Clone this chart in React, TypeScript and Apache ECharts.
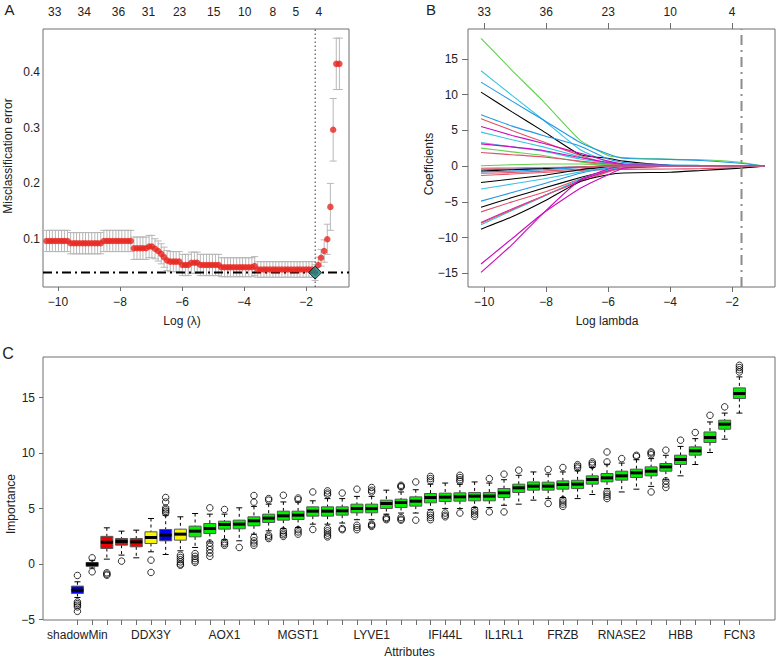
import React, { useEffect, useRef } from "react";
import * as echarts from "echarts";

const FONT = '"Liberation Sans", Arial, Helvetica, sans-serif';
const TEXT = "#222222";
const FRAME = "#6e6e6e";

// ---------------- Panel A: cross-validation misclassification error ----------------
const A_LOG_LAMBDA = [
  -10.37, -10.27, -10.18, -10.08, -9.98, -9.88, -9.79, -9.69, -9.59, -9.49,
  -9.40, -9.30, -9.20, -9.11, -9.01, -8.91, -8.81, -8.72, -8.62, -8.52,
  -8.42, -8.33, -8.23, -8.13, -8.04, -7.94, -7.84, -7.74, -7.65, -7.55,
  -7.45, -7.35, -7.26, -7.16, -7.06, -6.97, -6.87, -6.77, -6.67, -6.58,
  -6.48, -6.38, -6.28, -6.19, -6.09, -5.99, -5.89, -5.80, -5.70, -5.60,
  -5.51, -5.41, -5.31, -5.21, -5.12, -5.02, -4.92, -4.82, -4.73, -4.63,
  -4.53, -4.44, -4.34, -4.24, -4.14, -4.05, -3.95, -3.85, -3.75, -3.66,
  -3.56, -3.46, -3.36, -3.27, -3.17, -3.07, -2.98, -2.88, -2.78, -2.68,
  -2.59, -2.49, -2.39, -2.29, -2.20, -2.10, -2.00, -1.91, -1.81, -1.71,
  -1.61, -1.52, -1.42, -1.32, -1.22, -1.13, -1.03, -0.93,
];
const A_CV_ERROR = [
  0.097, 0.097, 0.097, 0.097, 0.097, 0.097, 0.097, 0.097, 0.093, 0.093,
  0.093, 0.093, 0.093, 0.093, 0.093, 0.093, 0.093, 0.093, 0.093, 0.097,
  0.097, 0.097, 0.097, 0.097, 0.097, 0.097, 0.097, 0.097, 0.097, 0.084,
  0.084, 0.084, 0.084, 0.084, 0.087, 0.087, 0.083, 0.079, 0.074, 0.068,
  0.062, 0.060, 0.060, 0.060, 0.060, 0.054, 0.054, 0.054, 0.058, 0.058,
  0.058, 0.054, 0.054, 0.054, 0.054, 0.054, 0.054, 0.054, 0.050, 0.050,
  0.050, 0.050, 0.050, 0.050, 0.050, 0.050, 0.050, 0.050, 0.050, 0.052,
  0.046, 0.046, 0.046, 0.046, 0.046, 0.046, 0.046, 0.046, 0.046, 0.046,
  0.046, 0.046, 0.046, 0.046, 0.046, 0.046, 0.046, 0.046, 0.046, 0.0404,
  0.054, 0.067, 0.079, 0.100, 0.158, 0.296, 0.414, 0.414,
];
const A_CV_SD = [
  0.019, 0.019, 0.019, 0.019, 0.019, 0.019, 0.019, 0.019, 0.019, 0.019,
  0.019, 0.019, 0.019, 0.019, 0.019, 0.019, 0.019, 0.019, 0.019, 0.019,
  0.019, 0.019, 0.019, 0.019, 0.019, 0.019, 0.019, 0.019, 0.019, 0.020,
  0.020, 0.020, 0.020, 0.020, 0.020, 0.020, 0.018, 0.018, 0.018, 0.018,
  0.018, 0.018, 0.018, 0.018, 0.018, 0.019, 0.019, 0.019, 0.019, 0.019,
  0.019, 0.019, 0.019, 0.019, 0.019, 0.019, 0.019, 0.019, 0.017, 0.017,
  0.017, 0.017, 0.017, 0.017, 0.017, 0.017, 0.017, 0.017, 0.017, 0.017,
  0.014, 0.014, 0.014, 0.014, 0.014, 0.014, 0.014, 0.014, 0.014, 0.014,
  0.014, 0.014, 0.014, 0.014, 0.014, 0.014, 0.014, 0.014, 0.014, 0.014,
  0.014, 0.015, 0.020, 0.027, 0.042, 0.056, 0.046, 0.046,
];
const A_MIN_LOG_LAMBDA = -1.71;
const A_MIN_ERROR = 0.0404;
const A_X_TICKS = [-10, -8, -6, -4, -2];
const A_Y_TICKS = [0.1, 0.2, 0.3, 0.4];
const A_TOP_POS = [-10.1, -9.15, -8.05, -7.08, -6.08, -4.98, -3.98, -3.07, -2.33, -1.59];
const A_TOP_LABELS = ["33", "34", "36", "31", "23", "15", "10", "8", "5", "4"];

// ---------------- Panel B: coefficient paths ----------------
const B_LOG_LAMBDA = [-10.1, -9.1, -8.1, -6.9, -6.0, -5.5, -4.0, -3.0, -1.75, -0.95];
const B_COLOR_KEYS = [
  "green", "cyan", "blue", "black", "blue", "red", "purple", "cyan", "cyan", "purple",
  "green", "red", "green", "blue", "black", "red", "red", "black", "cyan", "blue",
  "black", "red", "purple", "cyan", "red", "black", "purple", "purple", "blue", "red",
];
const B_PATHS = [
  [17.9, 13.4, 9.1, 3.6, 1.5, 1.2, 0.95, 0.9, 0.55, 0],
  [13.35, 9.9, 6.5, 2.3, 0.6, 0.3, 0.15, 0.1, 0.05, 0],
  [11.76, 9.1, 6.5, 3.3, 1.7, 1.1, 0.95, 0.8, 0.4, 0],
  [10.36, 7.6, 4.9, 1.6, 1.1, 0.7, 0.1, 0.05, 0, 0],
  [7.18, 5.6, 4.3, 2.8, 1.0, 0.5, 0.15, 0.1, 0.05, 0],
  [6.62, 5.0, 3.4, 1.5, 0.4, 0.2, 0.05, 0, 0, 0],
  [5.55, 4.3, 3.2, 1.8, 0.7, 0.3, 0.1, 0, 0, 0],
  [4.76, 3.7, 2.7, 1.3, 0.3, 0.1, 0, 0, 0, 0],
  [3.3, 2.7, 2.1, 1.0, 0.4, 0.2, 0.05, 0, 0, 0],
  [3.12, 2.7, 2.2, 1.2, 0.5, 0.2, 0.05, 0, 0, 0],
  [2.52, 2.0, 1.5, 0.6, 0.2, 0.1, 0, 0, 0, 0],
  [1.9, 1.6, 1.3, 0.7, 0.3, 0.1, 0, 0, 0, 0],
  [0.05, 0.2, 0.3, 0.3, 0.15, 0.05, 0, 0, 0, 0],
  [-0.5, -0.4, -0.3, -0.1, 0, 0, 0, 0, 0, 0],
  [-0.7, -0.5, -0.35, -0.15, 0, 0, 0, 0, 0, 0],
  [-1.0, -0.9, -0.7, -0.4, -0.15, 0, 0, 0, 0, 0],
  [-1.3, -1.1, -0.9, -0.6, -0.5, -0.45, -0.4, -0.35, -0.2, 0],
  [-2.3, -1.8, -1.3, -0.5, -0.1, 0, 0, 0, 0, 0],
  [-3.2, -2.5, -1.8, -0.8, -0.2, 0, 0, 0, 0, 0],
  [-4.9, -3.7, -2.5, -1.0, -0.3, -0.1, 0, 0, 0, 0],
  [-5.75, -4.4, -3.1, -1.6, -0.6, -0.2, 0, 0, 0, 0],
  [-6.4, -5.0, -3.7, -1.8, -0.6, -0.2, 0, 0, 0, 0],
  [-7.9, -6.0, -4.2, -2.0, -0.7, -0.2, 0, 0, 0, 0],
  [-8.2, -6.2, -4.3, -1.8, -0.5, -0.1, 0, 0, 0, 0],
  [-8.0, -6.1, -4.2, -2.2, -0.8, -0.3, 0, 0, 0, 0],
  [-8.83, -7.1, -5.0, -2.15, -1.2, -0.95, -0.85, -0.6, -0.3, 0],
  [-13.7, -10.15, -6.6, -3.1, -1.2, -0.3, 0, 0, 0, 0],
  [-14.87, -11.0, -6.6, -1.9, -0.4, 0, 0, 0, 0, 0],
  [-0.8, -0.7, -0.5, -0.2, 0, 0, 0, 0, 0, 0],
  [-0.3, -0.25, -0.2, -0.1, 0, 0, 0, 0, 0, 0],
];
const B_LAMBDA_LINE = -1.7;
const B_X_TICKS = [-10, -8, -6, -4, -2];
const B_Y_TICKS = [-15, -10, -5, 0, 5, 10, 15];
const B_TOP_LABELS = ["33", "36", "23", "10", "4"];

// ---------------- Panel C: Boruta importance ----------------
const C_NAMES = [
  "shadowMin", "", "", "", "", "DDX3Y", "", "", "", "",
  "AOX1", "", "", "", "", "MGST1", "", "", "", "",
  "LYVE1", "", "", "", "", "IFI44L", "", "", "", "IL1RL1",
  "", "", "", "FRZB", "", "", "", "RNASE2", "", "",
  "", "HBB", "", "", "", "FCN3",
];
const C_COLOR_KEYS = [
  "blue", "black", "red", "red", "red", "yellow", "blue", "yellow", "green", "green",
  "green", "green", "green", "green", "green", "green", "green", "green", "green", "green",
  "green", "green", "green", "green", "green", "green", "green", "green", "green", "green",
  "green", "green", "green", "green", "green", "green", "green", "green", "green", "green",
  "green", "green", "green", "green", "green", "green",
];
const C_LOW = [
  -3.0, -0.35, 0.45, 0.81, 0.57, 1.11, 0.87, 1.2, 1.5, 2.0,
  2.2, 2.1, 2.7, 3.0, 3.2, 3.3, 3.6, 3.6, 3.7, 4.0,
  4.0, 4.5, 4.6, 4.6, 4.9, 5.0, 5.0, 5.1, 5.1, 5.3,
  5.4, 5.76, 5.9, 6.0, 5.9, 6.27, 6.8, 6.5, 6.75, 7.0,
  7.6, 7.95, 8.97, 10.05, 11.25, 13.6,
];
const C_Q1 = [
  -2.64, -0.2, 1.41, 1.71, 1.56, 1.86, 2.1, 2.16, 2.46, 2.76,
  3.15, 3.18, 3.45, 3.75, 3.96, 4.02, 4.32, 4.32, 4.41, 4.62,
  4.62, 5.01, 5.1, 5.22, 5.52, 5.64, 5.67, 5.7, 5.7, 6.0,
  6.45, 6.66, 6.66, 6.75, 6.8, 7.2, 7.41, 7.56, 7.8, 7.95,
  8.37, 8.97, 9.81, 10.95, 12.15, 14.91,
];
const C_MEDIAN = [
  -2.34, 0, 1.97, 2.04, 2.0, 2.4, 2.61, 2.7, 2.97, 3.21,
  3.57, 3.6, 3.9, 4.14, 4.35, 4.41, 4.77, 4.77, 4.8, 5.01,
  5.0, 5.46, 5.55, 5.67, 6.0, 6.03, 6.06, 6.12, 6.12, 6.42,
  6.87, 7.02, 7.02, 7.17, 7.2, 7.62, 7.77, 7.95, 8.22, 8.37,
  8.76, 9.42, 10.2, 11.4, 12.6, 15.36,
];
const C_Q3 = [
  -1.98, 0.15, 2.5, 2.31, 2.31, 2.91, 3.12, 3.15, 3.42, 3.66,
  3.87, 3.96, 4.26, 4.5, 4.77, 4.77, 5.16, 5.16, 5.16, 5.4,
  5.4, 5.76, 5.85, 6.06, 6.36, 6.39, 6.42, 6.45, 6.45, 6.81,
  7.2, 7.4, 7.38, 7.5, 7.55, 7.95, 8.16, 8.37, 8.55, 8.76,
  9.06, 9.81, 10.56, 11.9, 12.96, 15.87,
];
const C_HIGH = [
  -1.59, 0.35, 3.27, 2.97, 3.06, 4.11, 4.4, 4.26, 4.56, 4.5,
  4.5, 5.07, 5.2, 5.4, 5.6, 5.6, 5.7, 5.9, 5.9, 6.1,
  6.1, 6.66, 6.5, 6.7, 7.2, 7.3, 7.2, 7.4, 7.3, 7.6,
  8.0, 8.3, 8.1, 8.3, 8.4, 8.7, 9.0, 9.1, 9.4, 9.5,
  9.8, 10.6, 11.3, 12.8, 13.6, 16.86,
];
const C_OUTLIERS = [
  [-1.02, -3.4, -3.55, -3.7, -3.85, -4.25],
  [0.57, -0.69],
  [-0.78, -0.9, -1.0],
  [0.27],
  [],
  [0.36, -0.75],
  [4.6, 4.75, 4.9, 5.05, 5.6, 6.0],
  [0.8, 0.6, 0.4, 0.2, 0.0, -0.1],
  [0.95, 0.7, 0.5, 0.3, 0.15],
  [5.07, 1.9, 1.6, 1.3, 1.0, 0.7],
  [4.92, 2.0, 1.85, 1.7],
  [1.5],
  [6.18, 5.58, 2.4, 2.1, 1.9, 1.7],
  [5.9, 5.76, 2.6, 2.45, 2.3],
  [6.2, 3.0, 2.8, 2.65, 2.5],
  [5.95, 5.8, 3.1, 2.9, 2.7],
  [6.5, 3.12],
  [6.6, 6.4, 6.25, 3.2, 3.0, 2.8, 2.6, 2.45],
  [6.4, 3.2, 3.1],
  [6.75, 3.5, 3.3, 3.1],
  [6.9, 6.65, 6.5, 3.6, 3.5, 3.4],
  [4.2, 4.1, 4.0],
  [7.1, 7.0, 6.95, 4.2, 4.05, 3.96],
  [7.4, 3.96],
  [7.9, 7.7, 7.5, 4.6, 4.4, 4.2, 4.0],
  [4.6, 4.4, 4.26],
  [8.0, 7.8, 7.6, 7.45, 4.6],
  [4.9, 4.7, 4.5, 4.3],
  [7.7, 4.7],
  [8.1, 4.7],
  [8.46],
  [],
  [8.52, 5.46],
  [8.7, 5.8, 5.6, 5.4, 5.2],
  [8.95, 8.8, 8.65],
  [9.2, 9.05, 8.9],
  [10.1, 9.2, 6.5, 6.3, 6.1, 5.9],
  [9.5],
  [9.8, 9.7],
  [10.1, 10.0, 9.85, 6.5],
  [10.26, 7.5, 7.2, 6.9],
  [11.16],
  [11.85],
  [13.4],
  [14.16],
  [17.9, 17.7, 17.5, 17.3],
];
const C_Y_TICKS = [-5, 0, 5, 10, 15];

// ---------------- styling ----------------
const LINE_COLORS: Record<string, string> = {
  green: "#61D04F",
  cyan: "#33C6DE",
  blue: "#2297E6",
  black: "#000000",
  red: "#DF536B",
  purple: "#CD0BBC",
};
const BOX_COLORS: Record<string, string> = {
  blue: "#0000EE",
  black: "#000000",
  red: "#F00000",
  yellow: "#F7F700",
  green: "#00F000",
};

const minusFmt = (v: number) => (v < 0 ? "\u2212" + Math.abs(v) : String(v));
const labelStyle = { fontSize: 12, color: TEXT, fontFamily: FONT };

function buildOption() {
  const A_X_MIN = -10.48, A_X_MAX = -0.62, A_Y_MIN = 0.0146, A_Y_MAX = 0.4764;
  const B_X_MIN = -10.52, B_X_MAX = -0.62, B_Y_MIN = -16.92, B_Y_MAX = 19.2;
  const C_X_MIN = -2.34, C_X_MAX = 47.42, C_Y_MIN = -5.03, C_Y_MAX = 18.65;

  const gridBase = { show: true, borderColor: FRAME, borderWidth: 1, backgroundColor: "#ffffff" };

  const cIdx = C_NAMES.map((_, i) => i);
  const cLabelIdx = C_NAMES.map((n, i) => (n ? i : -1)).filter((i) => i >= 0);

  const series: any[] = [];

  // A: error bars
  series.push({
    type: "custom",
    xAxisIndex: 0,
    yAxisIndex: 0,
    z: 1,
    clip: false,
    encode: { x: 0, y: [1, 2] },
    data: A_LOG_LAMBDA.map((x, i) => [x, A_CV_ERROR[i] - A_CV_SD[i], A_CV_ERROR[i] + A_CV_SD[i]]),
    renderItem: (params: any, api: any) => {
      const x = api.value(0);
      const lo = api.coord([x, api.value(1)]);
      const hi = api.coord([x, api.value(2)]);
      const c = 3.5;
      const st = { stroke: "#b8b8b8", lineWidth: 1 };
      return {
        type: "group",
        children: [
          { type: "line", shape: { x1: lo[0], y1: lo[1], x2: hi[0], y2: hi[1] }, style: st },
          { type: "line", shape: { x1: lo[0] - c, y1: lo[1], x2: lo[0] + c, y2: lo[1] }, style: st },
          { type: "line", shape: { x1: hi[0] - c, y1: hi[1], x2: hi[0] + c, y2: hi[1] }, style: st },
        ],
      };
    },
  });
  // A: horizontal dash-dot line at minimum error
  series.push({
    type: "line",
    xAxisIndex: 0,
    yAxisIndex: 0,
    z: 2,
    symbol: "none",
    data: [[A_X_MIN, A_MIN_ERROR], [A_X_MAX, A_MIN_ERROR]],
    lineStyle: { color: "#000", width: 2, type: [9, 4, 2, 4] },
  });
  // A: vertical dotted line at lambda.min
  series.push({
    type: "line",
    xAxisIndex: 0,
    yAxisIndex: 0,
    z: 2,
    symbol: "none",
    data: [[A_MIN_LOG_LAMBDA, A_Y_MIN], [A_MIN_LOG_LAMBDA, A_Y_MAX]],
    lineStyle: { color: "#333", width: 1, type: [1.5, 2.5] },
  });
  // A: red points
  series.push({
    type: "scatter",
    xAxisIndex: 0,
    yAxisIndex: 0,
    z: 3,
    symbol: "circle",
    symbolSize: 6.5,
    itemStyle: { color: "#E8261E" },
    data: A_LOG_LAMBDA.map((x, i) => [x, A_CV_ERROR[i]]),
  });
  // A: diamond
  series.push({
    type: "scatter",
    xAxisIndex: 0,
    yAxisIndex: 0,
    z: 4,
    symbol: "diamond",
    symbolSize: [13, 13],
    itemStyle: { color: "#16898A", borderColor: "#000", borderWidth: 1 },
    data: [[A_MIN_LOG_LAMBDA, A_MIN_ERROR]],
  });

  // B: coefficient paths
  B_PATHS.forEach((vals, k) => {
    series.push({
      type: "line",
      xAxisIndex: 2,
      yAxisIndex: 1,
      symbol: "none",
      smooth: 0.15,
      z: 2,
      lineStyle: { color: LINE_COLORS[B_COLOR_KEYS[k]], width: 1.1 },
      data: B_LOG_LAMBDA.map((x, i) => [x, vals[i]]),
    });
  });
  series.push({
    type: "line",
    xAxisIndex: 2,
    yAxisIndex: 1,
    symbol: "none",
    z: 3,
    data: [[B_LAMBDA_LINE, B_Y_MIN], [B_LAMBDA_LINE, B_Y_MAX]],
    lineStyle: { color: "#8c8c8c", width: 2, type: [10, 5, 2, 5] },
  });

  // C: boxes
  series.push({
    type: "custom",
    xAxisIndex: 4,
    yAxisIndex: 2,
    z: 2,
    clip: false,
    encode: { x: 0, y: [1, 2, 3, 4, 5] },
    data: cIdx.map((i) => [i, C_LOW[i], C_Q1[i], C_MEDIAN[i], C_Q3[i], C_HIGH[i]]),
    renderItem: (params: any, api: any) => {
      const x = api.value(0);
      const lo = api.coord([x, api.value(1)]);
      const q1 = api.coord([x, api.value(2)]);
      const md = api.coord([x, api.value(3)]);
      const q3 = api.coord([x, api.value(4)]);
      const hi = api.coord([x, api.value(5)]);
      const cx = lo[0];
      const half = 6;
      const cap = 3;
      const fill = BOX_COLORS[C_COLOR_KEYS[params.dataIndex]];
      const dash = { stroke: "#000", lineWidth: 1, lineDash: [3, 3] };
      const solid = { stroke: "#000", lineWidth: 1 };
      return {
        type: "group",
        children: [
          { type: "line", shape: { x1: cx, y1: hi[1], x2: cx, y2: q3[1] }, style: dash },
          { type: "line", shape: { x1: cx, y1: q1[1], x2: cx, y2: lo[1] }, style: dash },
          { type: "line", shape: { x1: cx - cap, y1: hi[1], x2: cx + cap, y2: hi[1] }, style: solid },
          { type: "line", shape: { x1: cx - cap, y1: lo[1], x2: cx + cap, y2: lo[1] }, style: solid },
          {
            type: "rect",
            shape: { x: cx - half, y: q3[1], width: half * 2, height: Math.max(q1[1] - q3[1], 1) },
            style: { fill, stroke: "#555", lineWidth: 1 },
          },
          { type: "line", shape: { x1: cx - half, y1: md[1], x2: cx + half, y2: md[1] }, style: { stroke: "#000", lineWidth: 3 } },
        ],
      };
    },
  });
  // C: outliers
  series.push({
    type: "scatter",
    xAxisIndex: 4,
    yAxisIndex: 2,
    z: 3,
    symbol: "circle",
    symbolSize: 6.5,
    itemStyle: { color: "rgba(255,255,255,0)", borderColor: "#000", borderWidth: 1 },
    data: C_OUTLIERS.flatMap((arr, i) => arr.map((v) => [i, v])),
  });

  const noLine = { show: false, onZero: false };
  const hidden = { show: false };

  return {
    animation: false,
    backgroundColor: "#ffffff",
    textStyle: { fontFamily: FONT },
    grid: [
      { ...gridBase, left: 43, top: 29, width: 306, height: 258 },
      { ...gridBase, left: 468, top: 29, width: 307, height: 258 },
      { ...gridBase, left: 43, top: 357, width: 732, height: 263 },
    ],
    xAxis: [
      {
        type: "value", gridIndex: 0, position: "bottom", min: A_X_MIN, max: A_X_MAX,
        axisLine: noLine, splitLine: hidden,
        axisTick: { show: true, length: 4, lineStyle: { color: FRAME }, customValues: A_X_TICKS },
        axisLabel: { ...labelStyle, margin: 9, customValues: A_X_TICKS, formatter: minusFmt },
      },
      {
        type: "value", gridIndex: 0, position: "top", min: A_X_MIN, max: A_X_MAX,
        axisLine: noLine, splitLine: hidden, axisTick: hidden,
        axisLabel: {
          ...labelStyle, margin: 11, customValues: A_TOP_POS,
          formatter: (v: number) => {
            const i = A_TOP_POS.findIndex((p) => Math.abs(p - v) < 1e-6);
            return i >= 0 ? A_TOP_LABELS[i] : "";
          },
        },
      },
      {
        type: "value", gridIndex: 1, position: "bottom", min: B_X_MIN, max: B_X_MAX,
        axisLine: noLine, splitLine: hidden,
        axisTick: { show: true, length: 5, lineStyle: { color: FRAME }, customValues: B_X_TICKS },
        axisLabel: { ...labelStyle, margin: 9, customValues: B_X_TICKS, formatter: minusFmt },
      },
      {
        type: "value", gridIndex: 1, position: "top", min: B_X_MIN, max: B_X_MAX,
        axisLine: noLine, splitLine: hidden,
        axisTick: { show: true, length: 6, lineStyle: { color: FRAME }, customValues: B_X_TICKS },
        axisLabel: {
          ...labelStyle, margin: 11, customValues: B_X_TICKS,
          formatter: (v: number) => {
            const i = B_X_TICKS.findIndex((p) => Math.abs(p - v) < 1e-6);
            return i >= 0 ? B_TOP_LABELS[i] : "";
          },
        },
      },
      {
        type: "value", gridIndex: 2, position: "bottom", min: C_X_MIN, max: C_X_MAX,
        axisLine: noLine, splitLine: hidden,
        axisTick: { show: true, length: 5, lineStyle: { color: FRAME }, customValues: cIdx },
        axisLabel: {
          ...labelStyle, margin: 9, customValues: cLabelIdx,
          formatter: (v: number) => C_NAMES[Math.round(v)] || "",
        },
      },
    ],
    yAxis: [
      {
        type: "value", gridIndex: 0, position: "left", min: A_Y_MIN, max: A_Y_MAX,
        axisLine: noLine, splitLine: hidden, axisTick: hidden,
        axisLabel: { ...labelStyle, margin: 3, customValues: A_Y_TICKS, formatter: (v: number) => v.toFixed(1) },
      },
      {
        type: "value", gridIndex: 1, position: "left", min: B_Y_MIN, max: B_Y_MAX,
        axisLine: noLine, splitLine: hidden,
        axisTick: { show: true, length: 6, lineStyle: { color: FRAME }, customValues: B_Y_TICKS },
        axisLabel: { ...labelStyle, margin: 10, customValues: B_Y_TICKS, formatter: minusFmt },
      },
      {
        type: "value", gridIndex: 2, position: "left", min: C_Y_MIN, max: C_Y_MAX,
        axisLine: noLine, splitLine: hidden,
        axisTick: { show: true, length: 4, lineStyle: { color: FRAME }, customValues: C_Y_TICKS },
        axisLabel: { ...labelStyle, margin: 8, customValues: C_Y_TICKS, formatter: minusFmt },
      },
    ],
    series,
    graphic: [
      { type: "text", x: 9.5, y: 9, style: { text: "A", fontSize: 15, fontFamily: FONT, fill: TEXT, align: "center", verticalAlign: "middle" } },
      { type: "text", x: 431, y: 9, style: { text: "B", fontSize: 15, fontFamily: FONT, fill: TEXT, align: "center", verticalAlign: "middle" } },
      { type: "text", x: 8, y: 353, style: { text: "C", fontSize: 16, fontFamily: FONT, fill: TEXT, align: "center", verticalAlign: "middle" } },
      { type: "text", x: 7.5, y: 156, rotation: Math.PI / 2, style: { text: "Misclassification error", fontSize: 12, fontFamily: FONT, fill: TEXT, align: "center", verticalAlign: "middle" } },
      { type: "text", x: 182, y: 321, style: { text: "Log (\u03bb)", fontSize: 12, fontFamily: FONT, fill: TEXT, align: "center", verticalAlign: "middle" } },
      { type: "text", x: 429, y: 164, rotation: Math.PI / 2, style: { text: "Coefficients", fontSize: 12, fontFamily: FONT, fill: TEXT, align: "center", verticalAlign: "middle" } },
      { type: "text", x: 607, y: 321, style: { text: "Log lambda", fontSize: 12, fontFamily: FONT, fill: TEXT, align: "center", verticalAlign: "middle" } },
      { type: "text", x: 11, y: 504, rotation: Math.PI / 2, style: { text: "Importance", fontSize: 12, fontFamily: FONT, fill: TEXT, align: "center", verticalAlign: "middle" } },
      { type: "text", x: 409.5, y: 652, style: { text: "Attributes", fontSize: 12, fontFamily: FONT, fill: TEXT, align: "center", verticalAlign: "middle" } },
    ],
  };
}

export default function App() {
  const ref = useRef<HTMLDivElement>(null);
  useEffect(() => {
    if (!ref.current) return;
    const chart = echarts.init(ref.current, null, { renderer: "svg" });
    chart.setOption(buildOption() as any);
    return () => chart.dispose();
  }, []);
  return (
    <div
      ref={ref}
      style={{ position: "fixed", left: 0, top: 0, width: 776, height: 659, background: "#ffffff" }}
    />
  );
}
